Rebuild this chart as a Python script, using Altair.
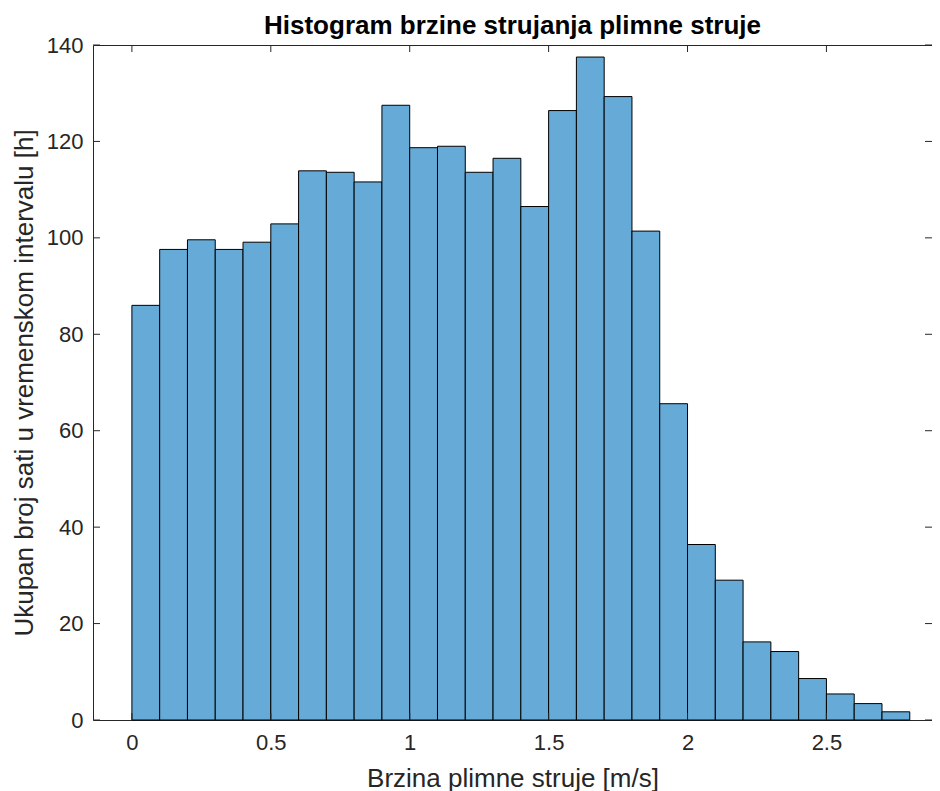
import altair as alt
import pandas as pd

# Histogram data (bin left edges, bin right edges, hours per bin)
bin_lo = [0.0, 0.1, 0.2, 0.3, 0.4, 0.5, 0.6, 0.7, 0.8, 0.9,
          1.0, 1.1, 1.2, 1.3, 1.4, 1.5, 1.6, 1.7, 1.8, 1.9,
          2.0, 2.1, 2.2, 2.3, 2.4, 2.5, 2.6, 2.7]
bin_hi = [0.1, 0.2, 0.3, 0.4, 0.5, 0.6, 0.7, 0.8, 0.9, 1.0,
          1.1, 1.2, 1.3, 1.4, 1.5, 1.6, 1.7, 1.8, 1.9, 2.0,
          2.1, 2.2, 2.3, 2.4, 2.5, 2.6, 2.7, 2.8]
hours = [86.0, 97.6, 99.6, 97.6, 99.1, 102.9, 113.9, 113.6, 111.6, 127.5,
         118.7, 119.0, 113.6, 116.5, 106.5, 126.4, 137.5, 129.3, 101.4, 65.6,
         36.4, 29.0, 16.2, 14.2, 8.6, 5.4, 3.4, 1.7]

x_ticks = [0, 0.5, 1, 1.5, 2, 2.5]
y_ticks = [0, 20, 40, 60, 80, 100, 120, 140]

W, H = 839, 675
AX = "#262626"
FONT = "Liberation Sans"

df = pd.DataFrame({"lo": bin_lo, "hi": bin_hi, "h": hours})
xt = pd.DataFrame({"lo": x_ticks})
yt = pd.DataFrame({"h": y_ticks})

xscale = alt.Scale(domain=[-0.14, 2.88], nice=False, zero=False)
yscale = alt.Scale(domain=[0, 140], nice=False)

xaxis = alt.Axis(values=x_ticks, title="Brzina plimne struje [m/s]",
                 labelPadding=12, titlePadding=12, format="~g")
yaxis = alt.Axis(values=y_ticks, title="Ukupan broj sati u vremenskom intervalu [h]",
                 labelPadding=10, titlePadding=9)

X = alt.X("lo:Q", scale=xscale, axis=xaxis)
Y = alt.Y("h:Q", scale=yscale, axis=yaxis)

bars = alt.Chart(df).mark_rect(
    fill="#66AAD7", stroke="#000000", strokeWidth=1
).encode(x=X, x2="hi:Q", y=Y, y2=alt.datum(0))

xt_bot = alt.Chart(xt).mark_rule(color=AX, strokeWidth=1).encode(
    x=X, y=alt.value(H), y2=alt.value(H - 7))
xt_top = alt.Chart(xt).mark_rule(color=AX, strokeWidth=1).encode(
    x=X, y=alt.value(0), y2=alt.value(7))
yt_left = alt.Chart(yt).mark_rule(color=AX, strokeWidth=1).encode(
    y=Y, x=alt.value(0), x2=alt.value(7))
yt_right = alt.Chart(yt).mark_rule(color=AX, strokeWidth=1).encode(
    y=Y, x=alt.value(W), x2=alt.value(W - 7))

chart = alt.layer(bars, xt_bot, xt_top, yt_left, yt_right).properties(
    width=W, height=H,
    autosize="none",
    padding={"left": 85, "top": 37, "right": 0, "bottom": 71},
    title=alt.TitleParams("Histogram brzine strujanja plimne struje",
                          font=FONT, fontSize=26, fontWeight="bold",
                          color="#000000", anchor="middle", offset=-5),
).configure_view(
    stroke=AX, strokeWidth=1
).configure_axis(
    domain=False, ticks=False, grid=False,
    labelFont=FONT, labelFontSize=22, labelColor=AX,
    titleFont=FONT, titleFontSize=26, titleFontWeight="normal", titleColor=AX,
)

chart.save("out.html", embed_options={"renderer": "svg", "actions": False})
